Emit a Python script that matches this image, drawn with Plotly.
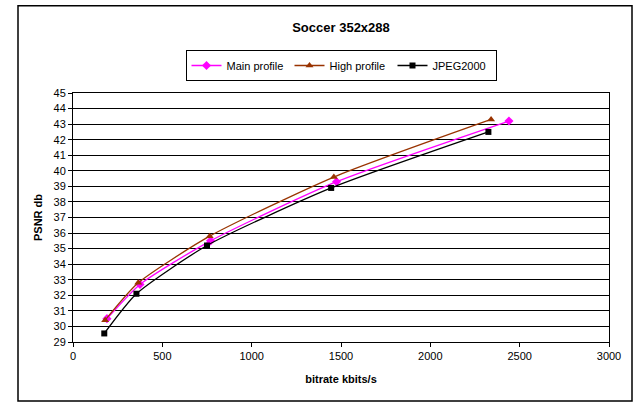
import plotly.graph_objects as go

main_x = [190, 375, 770, 1475, 2440]
main_y = [30.5, 32.7, 35.5, 39.3, 43.2]
high_x = [180, 365, 765, 1460, 2340]
high_y = [30.4, 32.8, 35.8, 39.6, 43.3]
jpeg_x = [175, 355, 750, 1445, 2325]
jpeg_y = [29.55, 32.1, 35.2, 38.9, 42.5]

FONT = "Liberation Sans, Arial, sans-serif"

fig = go.Figure()
fig.add_trace(go.Scatter(x=main_x, y=main_y, name="Main profile", mode="lines+markers",
                         line=dict(color="#FF00FF", width=1.3, shape="spline", smoothing=0.6),
                         marker=dict(symbol="diamond", size=7, color="#FF00FF")))
fig.add_trace(go.Scatter(x=high_x, y=high_y, name="High profile", mode="lines+markers",
                         line=dict(color="#993300", width=1.3, shape="spline", smoothing=0.6),
                         marker=dict(symbol="triangle-up", size=7, color="#993300")))
fig.add_trace(go.Scatter(x=jpeg_x, y=jpeg_y, name="JPEG2000", mode="lines+markers",
                         line=dict(color="#000000", width=1.3, shape="spline", smoothing=0.6),
                         marker=dict(symbol="square", size=6, color="#000000")))

fig.update_layout(
    width=636, height=403,
    margin=dict(l=73, r=27, t=93, b=61, autoexpand=False),
    paper_bgcolor="white", plot_bgcolor="white",
    font=dict(family=FONT, size=11, color="black"),
    title=dict(text="<b>Soccer 352x288</b>", x=(73 + 609) / 2 / 636, xanchor="center",
               y=1 - 27 / 403, yanchor="middle", font=dict(size=13)),
    showlegend=True,
    legend=dict(orientation="h", xref="container", yref="container",
                x=341 / 636, xanchor="center", y=1 - 50 / 403, yanchor="top",
                bordercolor="black", borderwidth=1, bgcolor="white",
                font=dict(size=11), itemwidth=30, tracegroupgap=0,
                entrywidth=58, entrywidthmode="pixels"),
    xaxis=dict(range=[0, 3000], dtick=500, showgrid=False, zeroline=False, automargin=False,
               showline=True, linecolor="black", linewidth=1, mirror=True,
               ticks="outside", ticklen=4, tickcolor="black",
               title=dict(text="<b>bitrate kbits/s</b>", font=dict(size=11), standoff=14)),
    yaxis=dict(range=[29, 45], dtick=1, showgrid=True, gridcolor="black", gridwidth=1,
               zeroline=False, showline=True, linecolor="black", linewidth=1, mirror=True,
               automargin=False,
               ticks="outside", ticklen=4, tickcolor="black",
               title=dict(text="<b>PSNR db</b>", font=dict(size=11), standoff=8)),
    shapes=[dict(type="rect", xref="paper", yref="paper",
                 x0=(18 - 73) / 536, x1=(632 - 73) / 536,
                 y0=(342 - 401) / 249.5, y1=(342 - 5) / 249.5,
                 line=dict(color="black", width=1.5), fillcolor="rgba(0,0,0,0)", layer="below")],
)

fig.write_html("out.html", config={"displayModeBar": False},
               post_script="document.body.style.margin='0px';")
